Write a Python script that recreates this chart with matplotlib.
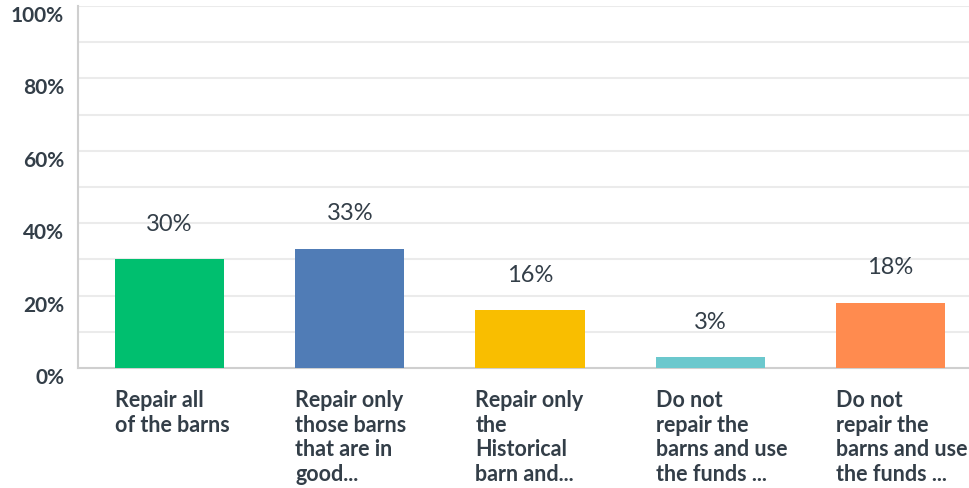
import matplotlib
matplotlib.use("Agg")
import matplotlib.pyplot as plt

categories = ["Repair all\nof the barns",
              "Repair only\nthose barns\nthat are in\ngood...",
              "Repair only\nthe\nHistorical\nbarn and...",
              "Do not\nrepair the\nbarns and use\nthe funds ...",
              "Do not\nrepair the\nbarns and use\nthe funds ..."]
values = [30, 33, 16, 3, 18]
value_labels = ["30%", "33%", "16%", "3%", "18%"]
colors = ["#00bf6f", "#507cb6", "#f9be00", "#6bc8cd", "#ff8b4f"]
yticks = [0, 20, 40, 60, 80, 100]
ytick_labels = ["0%", "20%", "40%", "60%", "80%", "100%"]

text_color = "#333e48"
plt.rcParams['font.family'] = ['Lato', 'DejaVu Sans']

fig = plt.figure(figsize=(9.69, 4.88), dpi=100)
ax = fig.add_axes([78/969, 1 - 368/488, (969-78)/969, (368-6)/488])

x = list(range(len(values)))
width = 0.605
ax.bar(x, values, width=width, color=colors, zorder=3)
ax.set_xlim(-0.508, 4.436)
ax.set_ylim(0, 100)

for g in range(10, 101, 10):
    ax.axhline(g, color="#ebebeb", lw=1.5, zorder=1)

ax.set_yticks(yticks)
ax.set_yticklabels([])
ax.tick_params(axis='y', length=0)
ax.set_xticks([])
for t, lab in zip(yticks, ytick_labels):
    ax.annotate(lab, (0, t), xycoords=('axes fraction', 'data'),
                xytext=(-14, -10), textcoords="offset pixels",
                ha="right", va="center", fontsize=15, color=text_color,
                fontweight="bold", annotation_clip=False)

for s in ["top", "right"]:
    ax.spines[s].set_visible(False)
ax.spines["left"].set_color("#cfcfcf")
ax.spines["left"].set_linewidth(1.5)
ax.spines["bottom"].set_color("#cfcfcf")
ax.spines["bottom"].set_linewidth(1.5)

for xi, v, lab in zip(x, values, value_labels):
    ax.annotate(lab, (xi, v), xytext=(0, 35), textcoords="offset pixels",
                ha="center", va="center", fontsize=17, color=text_color)

for xi, cat in zip(x, categories):
    ax.annotate(cat, (xi - width/2, 0), xytext=(0, -22), textcoords="offset pixels",
                ha="left", va="top", fontsize=15.5, color=text_color,
                fontweight="bold", linespacing=1.22, annotation_clip=False)

fig.savefig("out.png", dpi=100)
